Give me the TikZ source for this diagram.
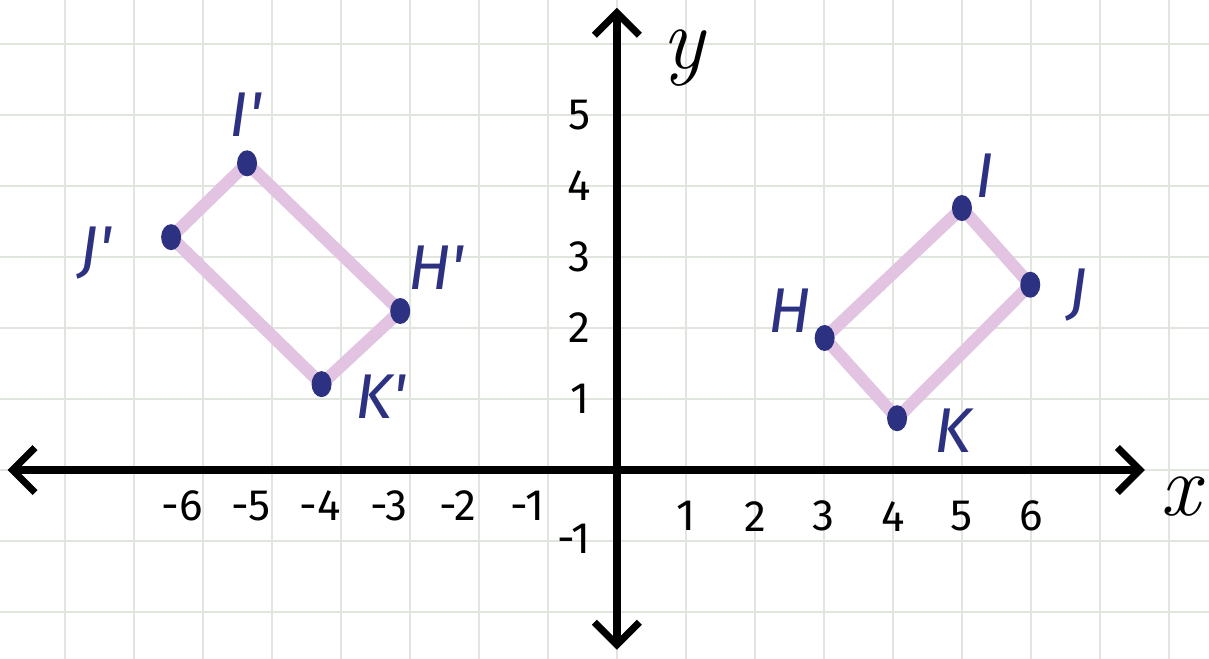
\documentclass[tikz,border=0pt]{standalone}
\usepackage{fontspec}
\setmainfont{Fira Sans}
\newfontfamily\axfont{Latin Modern Roman}
\usetikzlibrary{arrows.meta,shapes.geometric}
\definecolor{gridgreen}{HTML}{E0E6DD}
\definecolor{sidepink}{HTML}{E2C4E2}
\definecolor{dotblue}{HTML}{2C3181}
\newcommand{\pr}{\textquotesingle}

\begin{document}
\begin{tikzpicture}[x=1.38cm, y=1.42cm, font=\fontsize{25}{28}\selectfont,
  barb/.tip={Straight Barb[length=4.5mm,width=9mm,line width=4pt]},
  axis/.style={line width=4.5pt, barb-barb},
  side/.style={sidepink, line width=7pt},
  dot/.style={ellipse, fill=dotblue, minimum width=0.4cm, minimum height=0.52cm, inner sep=0pt},
  ptlabel/.style={dotblue, font=\fontsize{36}{38}\selectfont\itshape},
  axlabel/.style={inner sep=0pt, font=\axfont\fontsize{50}{52}\selectfont\itshape}]
\useasboundingbox (-8.94,-2.66) rectangle (8.58,6.62);
\fill[white] (-8.94,-2.66) rectangle (8.58,6.62);
\draw[gridgreen, line width=1pt, xstep=1.38cm, ystep=1.42cm] (-8.94,-2.66) grid (8.58,6.62);

% axes
\coordinate (xl) at (-8.83,0);
\coordinate (xr) at (7.65,0);
\coordinate (yb) at (0,-2.53);
\coordinate (yt) at (0,6.51);
\draw[axis] (xl) -- (xr);
\draw[axis] (yb) -- (yt);
\node[axlabel] (xname) at (8.16,-0.38) {x};
\node[axlabel] (yname) at (0.96,5.8) {y};

% numbers on the axes
\foreach \n in {1,...,6}
  \node (xn\n) at (\n,-0.65) {\n};
\foreach \n in {1,...,6}
  \node (xm\n) at (-\n-0.3,-0.5) {-\n};
\foreach \n in {1,...,5}
  \node (yn\n) at (-0.54,\n) {\n};
\node (ym1) at (-0.62,-0.97) {-1};

% HIJK
\coordinate (H) at (3.01,1.86);
\coordinate (I) at (5.0,3.69);
\coordinate (J) at (5.99,2.61);
\coordinate (K) at (4.06,0.73);
\draw[side] (H) -- (I) -- (J) -- (K) -- cycle;
\node[dot] (Hdot) at (H) {};
\node[dot] (Idot) at (I) {};
\node[dot] (Jdot) at (J) {};
\node[dot] (Kdot) at (K) {};
\node[ptlabel] (Hlab) at (2.5,2.25) {H};
\node[ptlabel] (Ilab) at (5.33,4.15) {I};
\node[ptlabel] (Jlab) at (6.68,2.46) {J};
\node[ptlabel] (Klab) at (4.87,0.56) {K};

% H'I'J'K'
\coordinate (H') at (-3.14,2.24);
\coordinate (I') at (-5.36,4.32);
\coordinate (J') at (-6.46,3.28);
\coordinate (K') at (-4.28,1.21);
\draw[side] (H') -- (I') -- (J') -- (K') -- cycle;
\node[dot] (H'dot) at (H') {};
\node[dot] (I'dot) at (I') {};
\node[dot] (J'dot) at (J') {};
\node[dot] (K'dot) at (K') {};
\node[ptlabel] (H'lab) at (-2.62,2.85) {H\pr};
\node[ptlabel] (I'lab) at (-5.38,5.0) {I\pr};
\node[ptlabel] (J'lab) at (-7.55,3.06) {J\pr};
\node[ptlabel] (K'lab) at (-3.42,1.04) {K\pr};
\end{tikzpicture}
\end{document}
